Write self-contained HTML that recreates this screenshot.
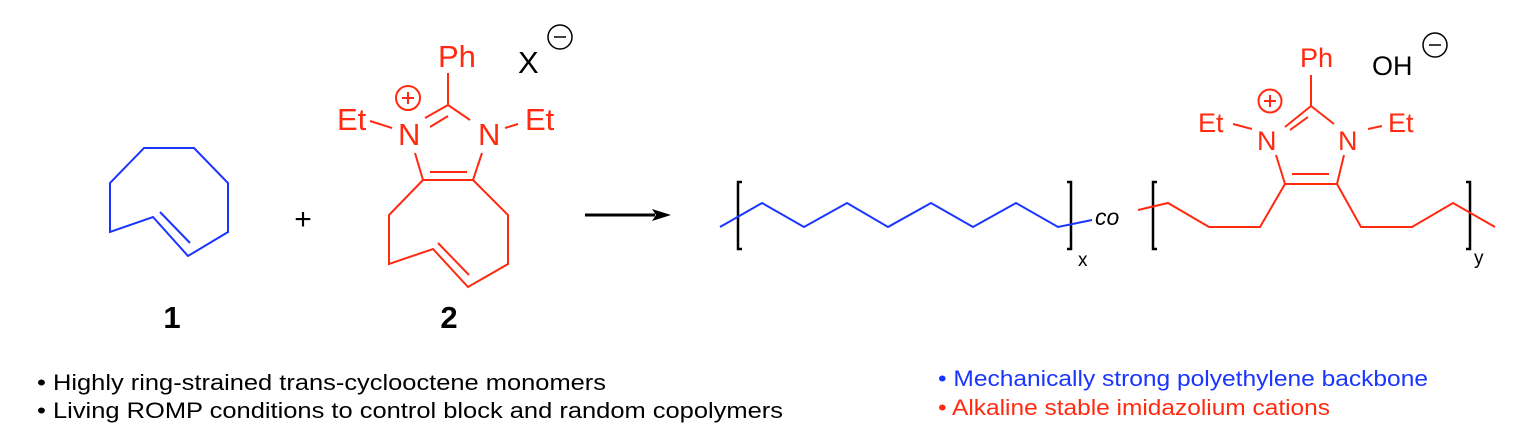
<!DOCTYPE html>
<html><head><meta charset="utf-8"><style>
html,body{margin:0;padding:0;background:#fff;}
svg{display:block;}
text{font-family:"Liberation Sans",Arial,sans-serif;}
</style></head><body>
<svg width="1519" height="435" viewBox="0 0 1519 435" xmlns="http://www.w3.org/2000/svg">
<g fill="none" stroke="#1a35ff" stroke-width="2">
<polygon points="144,148 194,148 228,183 228,232 188,256 153,217 110,232 110,183"/>
<line x1="160" y1="212" x2="190" y2="243"/>
</g>
<text x="303" y="229" font-size="30" text-anchor="middle">+</text>
<text x="172" y="328" font-size="31" font-weight="bold" text-anchor="middle">1</text>
<text x="449" y="328" font-size="31" font-weight="bold" text-anchor="middle">2</text>

<g fill="none" stroke="#ff2a10" stroke-width="2">
<line x1="448" y1="73" x2="448" y2="105"/>
<line x1="448" y1="105" x2="425" y2="118"/>
<line x1="430" y1="127" x2="448" y2="116"/>
<line x1="448" y1="105" x2="470" y2="120"/>
<line x1="415" y1="153" x2="423" y2="180"/>
<line x1="482" y1="153" x2="473" y2="180"/>
<line x1="423" y1="180" x2="473" y2="180"/>
<line x1="430" y1="172" x2="467" y2="172"/>
<polyline points="423,180 389,215 389,264 433,249 468,287 508,264 508,215 473,180"/>
<line x1="438" y1="243" x2="469" y2="275"/>
<line x1="370" y1="121" x2="392" y2="128"/>
<line x1="505" y1="128" x2="518" y2="124"/>
<circle cx="408" cy="98" r="12"/>
<line x1="402" y1="98" x2="414" y2="98"/><line x1="408" y1="92" x2="408" y2="104"/>
</g>
<g fill="#ff2a10" font-size="31">
<text x="337" y="130">Et</text>
<text x="525" y="130">Et</text>
<text x="398" y="145">N</text>
<text x="478" y="145">N</text>
<text x="438" y="67">Ph</text>
</g>
<text x="518" y="73" font-size="31">X</text>
<g fill="none" stroke="#000" stroke-width="1.5">
<circle cx="560" cy="37" r="12"/><line x1="554" y1="37" x2="566" y2="37"/>
</g>

<line x1="585" y1="215" x2="655" y2="215" stroke="#000" stroke-width="3"/>
<polygon points="652,209 671,215 652,221 656,215" fill="#000"/>

<g fill="none" stroke="#000" stroke-width="2.5">
<polyline points="742,182 738,182 738,249 742,249"/>
<polyline points="1067,182 1071,182 1071,249 1067,249"/>
<polyline points="1157,182 1153,182 1153,249 1157,249"/>
<polyline points="1466,182 1470,182 1470,249 1466,249"/>
</g>
<polyline fill="none" stroke="#1a35ff" stroke-width="2" points="720,227 762,203 804,227 847,203 888,227 931,203 973,227 1016,203 1058,227 1092,220"/>
<text x="1078" y="266" font-size="19">x</text>
<text x="1095" y="225" font-size="23" font-style="italic">co</text>
<g fill="none" stroke="#ff2a10" stroke-width="2">
<polyline points="1138,210 1168,203 1209,227 1260,227 1285,184 1337,184 1361,227 1412,227 1453,203 1495,227"/>
<line x1="1276" y1="155" x2="1285" y2="184"/>
<line x1="1344" y1="155" x2="1337" y2="184"/>
<line x1="1292" y1="174" x2="1329" y2="174"/>
<line x1="1311" y1="75" x2="1311" y2="106"/>
<line x1="1311" y1="106" x2="1285" y2="127"/>
<line x1="1290" y1="130" x2="1308" y2="117"/>
<line x1="1311" y1="106" x2="1334" y2="124"/>
<line x1="1233" y1="124" x2="1252" y2="129"/>
<line x1="1368" y1="129" x2="1382" y2="126"/>
<circle cx="1270" cy="101" r="11.5"/>
<line x1="1264" y1="101" x2="1276" y2="101"/><line x1="1270" y1="95" x2="1270" y2="107"/>
</g>
<text x="1474" y="264" font-size="19">y</text>
<g fill="#ff2a10" font-size="27">
<text x="1198" y="132">Et</text>
<text x="1388" y="132">Et</text>
<text x="1257" y="150">N</text>
<text x="1338" y="150">N</text>
<text x="1300" y="67">Ph</text>
</g>
<text x="1372" y="75" font-size="27">OH</text>
<g fill="none" stroke="#000" stroke-width="1.5">
<circle cx="1435" cy="45" r="12"/><line x1="1429" y1="45" x2="1441" y2="45"/>
</g>

<g font-size="22">
<text x="37" y="390" textLength="569" lengthAdjust="spacingAndGlyphs">• Highly ring-strained trans-cyclooctene monomers</text>
<text x="37" y="418" textLength="746" lengthAdjust="spacingAndGlyphs">• Living ROMP conditions to control block and random copolymers</text>
<text x="938" y="386" fill="#1a35ff" textLength="490" lengthAdjust="spacingAndGlyphs">• Mechanically strong polyethylene backbone</text>
<text x="938" y="415" fill="#ff2a10" textLength="392" lengthAdjust="spacingAndGlyphs">• Alkaline stable imidazolium cations</text>
</g>
</svg>
</body></html>
